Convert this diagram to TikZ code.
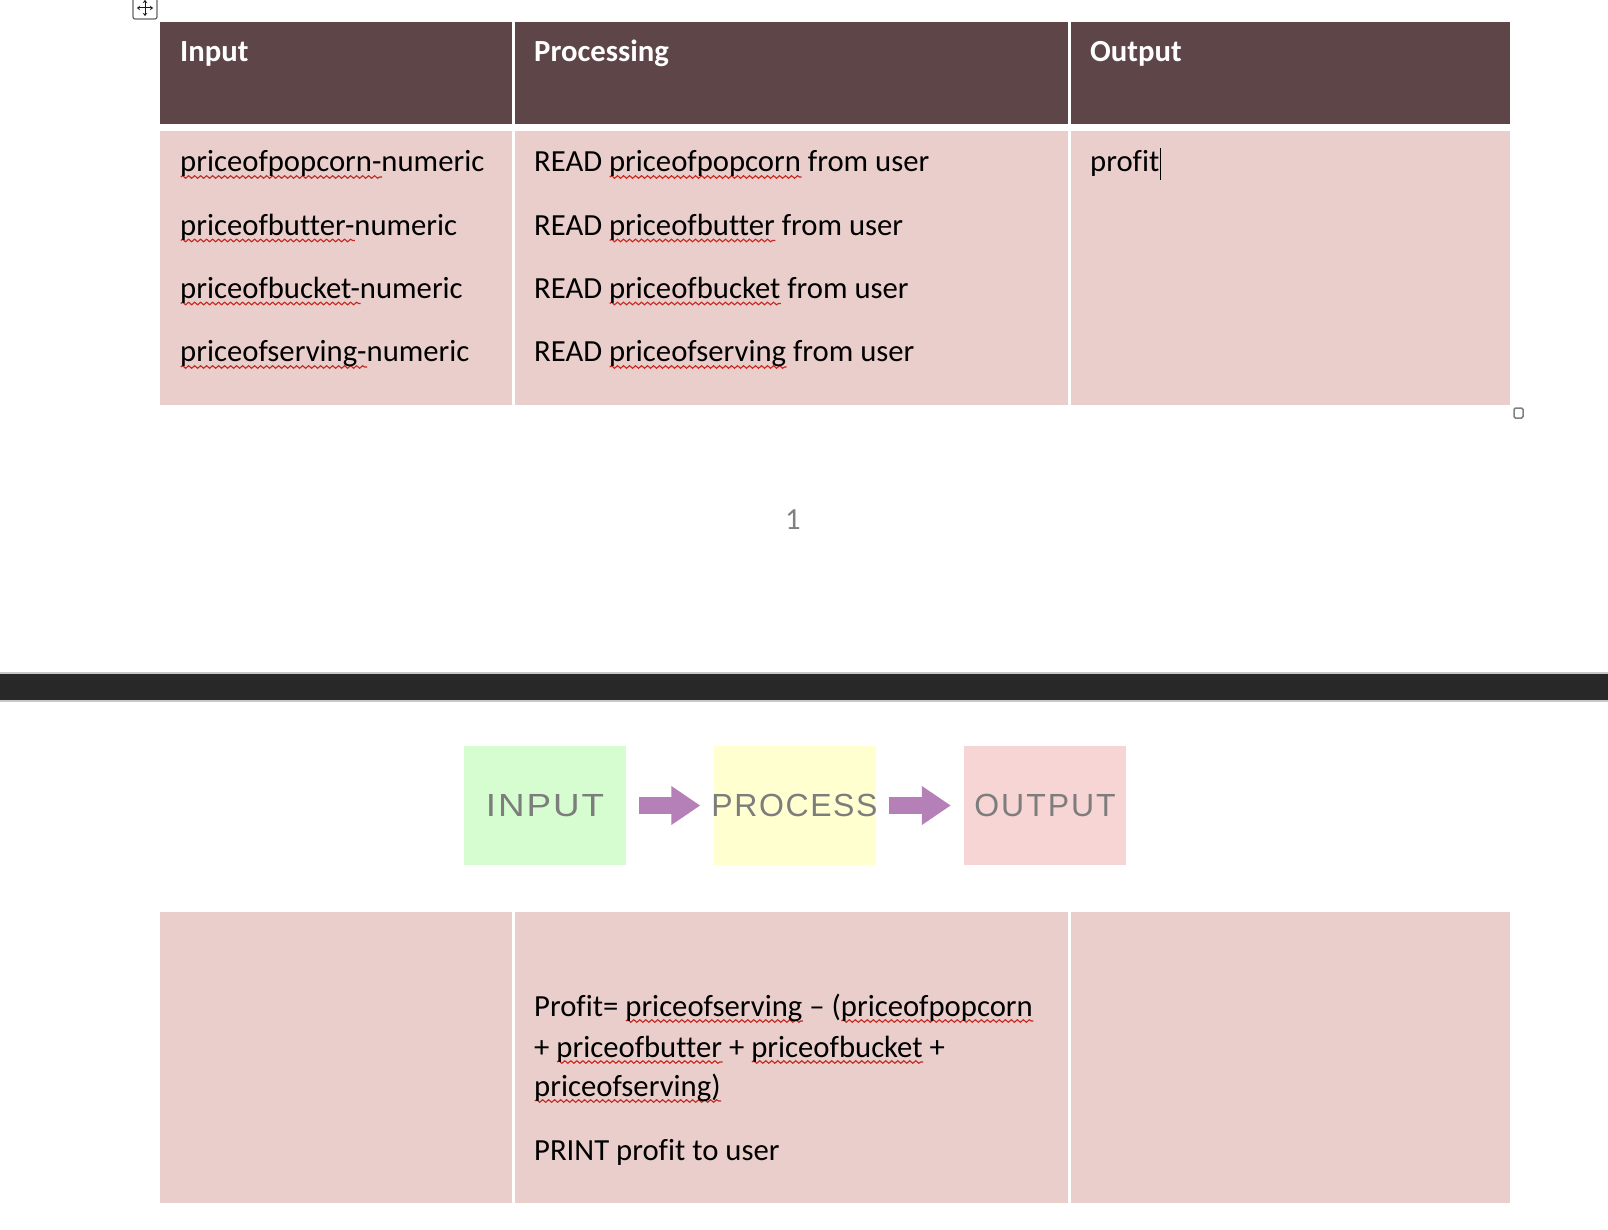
\documentclass[tikz,border=0pt]{standalone}
\usepackage{fontspec}
\setmainfont{Carlito}[Ligatures=NoCommon]
\newfontfamily\arialfont{Liberation Sans}
\usetikzlibrary{arrows.meta,decorations.pathmorphing}

\definecolor{headbrown}{RGB}{94,70,72}
\definecolor{cellpink}{RGB}{233,206,203}
\definecolor{wavered}{RGB}{196,40,30}
\definecolor{pagegray}{RGB}{128,128,128}
\definecolor{banddark}{RGB}{40,40,40}
\definecolor{bandedge}{RGB}{200,200,200}
\definecolor{inputgreen}{RGB}{213,253,208}
\definecolor{procyellow}{RGB}{255,255,208}
\definecolor{outpink}{RGB}{248,213,213}
\definecolor{arrowpurple}{RGB}{181,127,184}
\definecolor{flowgray}{RGB}{125,125,125}

\newsavebox\sqbox
\newdimen\sqwd
\newcommand\sq[1]{\sbox\sqbox{#1}\sqwd=\wd\sqbox\rlap{\tikz[baseline=0pt,x=1pt,y=1pt]\draw[wavered,line width=1.1pt,decorate,decoration={snake,amplitude=1.3pt,segment length=6pt}] (0,-5) -- (\sqwd,-5);}\usebox\sqbox}

\begin{document}
\begin{tikzpicture}[x=1pt,y=-1pt,font=\fontsize{30.7}{40}\selectfont]
        \fill[white] (0,0) rectangle (1608,1230);
        \useasboundingbox (0,0) rectangle (1608,1230);

        \fill[headbrown] (160,22) rectangle (1510,124);
        \fill[cellpink] (160,131) rectangle (1510,405);
        \fill[cellpink] (160,912) rectangle (1510,1203);
        \foreach \x in {513,1069}
          \draw[white,line width=3pt] (\x,22) -- (\x,405) (\x,912) -- (\x,1203);

        \draw[gray!80!black,fill=white,rounded corners=2pt,line width=1.2pt] (133,-4) rectangle (157,19);
        \coordinate (mv) at (145,8);
        \draw[gray!20!black,line width=1pt,{Stealth[length=3pt,width=4.5pt]}-{Stealth[length=3pt,width=4.5pt]}] ([xshift=-8pt]mv) -- ([xshift=8pt]mv);
        \draw[gray!20!black,line width=1pt,{Stealth[length=3pt,width=4.5pt]}-{Stealth[length=3pt,width=4.5pt]}] ([yshift=-8pt]mv) -- ([yshift=8pt]mv);
        \draw[gray,line width=1.5pt,rounded corners=1.5pt] (1514,408) rectangle (1523,418);

        \begin{scope}[every node/.style={anchor=base west,inner sep=0pt}]
          \begin{scope}[every node/.append style={text=white,font=\fontsize{30.7}{40}\selectfont\bfseries}]
            \node (h1) at (180,62) {Input};
            \node (h2) at (534,62) {Processing};
            \node (h3) at (1090,62) {Output};
          \end{scope}

          \node (in1) at (180,172) {\sq{priceofpopcorn-}numeric};
          \node (in2) at (180,235.5) {\sq{priceofbutter-}numeric};
          \node (in3) at (180,298.5) {\sq{priceofbucket-}numeric};
          \node (in4) at (180,362) {\sq{priceofserving-}numeric};

          \node (pr1) at (534,172) {READ \sq{priceofpopcorn} from user};
          \node (pr2) at (534,235.5) {READ \sq{priceofbutter} from user};
          \node (pr3) at (534,298.5) {READ \sq{priceofbucket} from user};
          \node (pr4) at (534,362) {READ \sq{priceofserving} from user};

          \node (out1) at (1090,172) {profit};

          \node (f1) at (534,1016) {Profit= \sq{priceofserving} – (\sq{priceofpopcorn}};
          \node (f2) at (534,1057) {+ \sq{priceofbutter} + \sq{priceofbucket} +};
          \node (f3) at (534,1096) {\sq{priceofserving)}};
          \node (f4) at (534,1160) {PRINT profit to user};
        \end{scope}
        \draw[line width=1.3pt] ([xshift=1pt]out1.base east) ++(0,-24) -- ++(0,32);

        \node[text=pagegray] (page) at (793,520) {1};

        \fill[bandedge] (0,672) rectangle (1608,702);
        \fill[banddark] (0,674) rectangle (1608,700);

        \begin{scope}[every node/.style={minimum width=162pt,minimum height=119pt,inner xsep=-6pt,inner ysep=0pt,text=flowgray,font=\arialfont\fontsize{32}{32}\selectfont}]
          \node[fill=inputgreen] (input) at (545,805.5) {\addfontfeature{FakeStretch=1.15,LetterSpace=6}INPUT};
          \node[fill=procyellow] (process) at (794.5,805.5) {\addfontfeature{LetterSpace=5}PROCESS};
          \node[fill=outpink] (output) at (1045,805.5) {\addfontfeature{LetterSpace=6}OUTPUT};
        \end{scope}

        \begin{scope}[every edge/.style={draw=arrowpurple,line width=17.4pt,-{Triangle[length=29pt,width=37pt]},shorten <=13pt,shorten >=13pt}]
          \path (input) edge (process);
          \path (process) edge (output);
        \end{scope}

      \end{tikzpicture}
\end{document}
